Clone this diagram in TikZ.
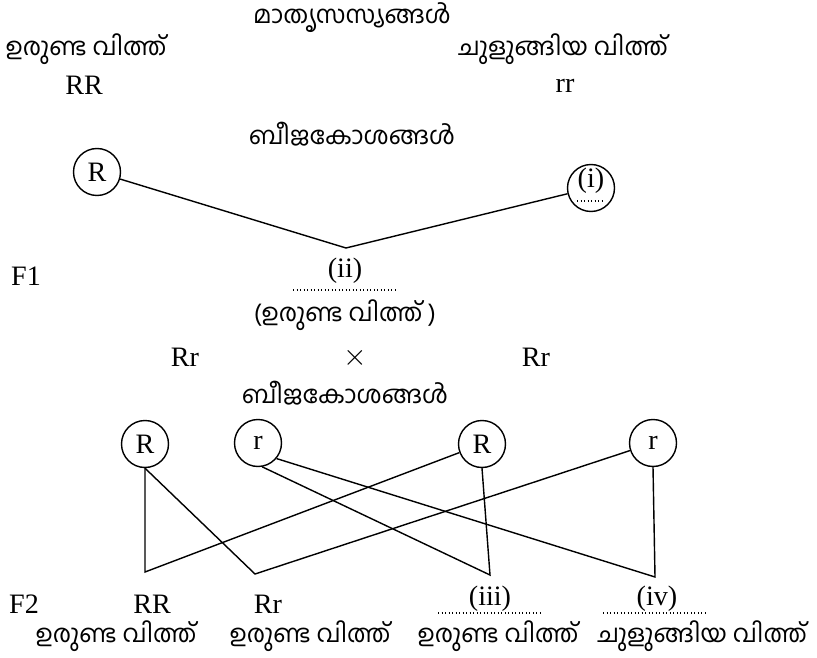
\documentclass[tikz,border=0pt]{standalone}
\usepackage{fontspec}
\setmainfont{Liberation Serif}
\newfontfamily\mal[Script=Malayalam]{Hind Kochi}
\begin{document}
\begin{tikzpicture}[x=0.02cm, y=-0.02cm, line width=0.8pt,
    every node/.style={font=\fontsize{16}{19}\selectfont, inner sep=0pt},
    ml/.style={font=\fontsize{14}{17}\selectfont\mal},
    gam/.style={draw, circle, minimum size=0.94cm, inner sep=0pt},
    dots/.style={line width=1.1pt, dash pattern=on 0.5pt off 1.5pt}]
    \useasboundingbox (0,0) rectangle (817,658);
    % parents
    \node[ml] (title) at (352,18) {മാതൃസസ്യങ്ങൾ};
    \node[ml] (round) at (86,49) {ഉരുണ്ട വിത്ത്};
    \node (RR) at (84,85) {RR};
    \node[ml] (wrink) at (563,49) {ചുളുങ്ങിയ വിത്ത്};
    \node (rr) at (565,86) {rr};
    \node[ml] (gam1) at (352,134) {ബീജകോശങ്ങൾ};
    \node[gam] (g1) at (97,172) {R};
    \node[gam] (g2) at (591,188) {};
    \node (i) at (591,181) {(i)};
    \draw[dots] (577,201)--(604,201);
    \coordinate (v) at (346,248);
    \draw (g1)--(v)--(g2);
    % F1
    \node (F1) at (26,276) {F1};
    \node (ii) at (345,271) {(ii)};
    \draw[dots] (293,290)--(398,290);
    \node[ml] (f1txt) at (345,315) {(ഉരുണ്ട വിത്ത് )};
    \node (p1) at (185,357) {Rr};
    \node (x) at (355,358) {$\times$};
    \node (p2) at (536,357) {Rr};
    \node[ml] (gam2) at (345,393) {ബീജകോശങ്ങൾ};
    \node[gam] (g3) at (145,444) {R};
    \node[gam] (g4) at (258,443) {r};
    \node[gam] (g5) at (482,444) {R};
    \node[gam] (g6) at (653,443) {r};
    \coordinate (c1) at (145,572);
    \coordinate (c2) at (255,574);
    \coordinate (c3) at (490,575);
    \coordinate (c4) at (655,577);
    \draw (g3.south)--(c1)--(g5);
    \draw (g3.south)--(c2)--(g6);
    \draw (g4.280)--(c3)--(g5.south);
    \draw (g4.320)--(c4)--(g6.south);
    % F2
    \node (F2) at (24,604) {F2};
    \node (o1) at (152,604) {RR};
    \node (o2) at (268,604) {Rr};
    \node (iii) at (490,599) {(iii)};
    \node (iv) at (657,599) {(iv)};
    \draw[dots] (438,613)--(542,613);
    \draw[dots] (603,613)--(705,613);
    \node[ml] (t1) at (116,636) {ഉരുണ്ട വിത്ത്};
    \node[ml] (t2) at (310,636) {ഉരുണ്ട വിത്ത്};
    \node[ml] (t3) at (498,636) {ഉരുണ്ട വിത്ത്};
    \node[ml] (t4) at (702,636) {ചുളുങ്ങിയ വിത്ത്};
\end{tikzpicture}
\end{document}
